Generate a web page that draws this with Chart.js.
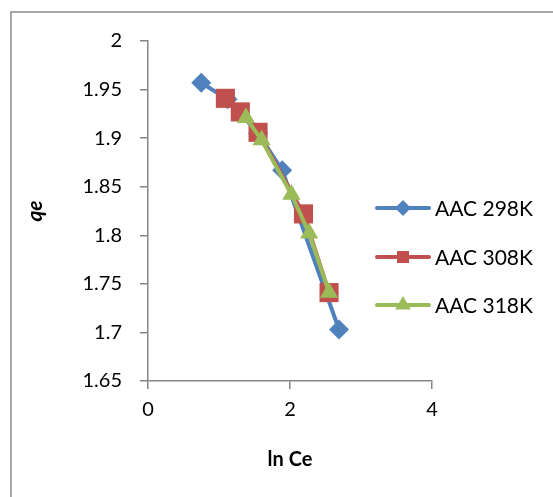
<!DOCTYPE html>
<html>
<head>
<meta charset="utf-8">
<script src="https://cdn.jsdelivr.net/npm/chart.js@4"></script>
<style>
html,body{margin:0;padding:0;background:#fff;}
#wrap{width:553px;height:497px;position:relative;}
</style>
</head>
<body>
<div id="wrap"><canvas id="c" width="553" height="497"></canvas></div>
<script>
const seriesNames = ['AAC 298K', 'AAC 308K', 'AAC 318K'];
const x298 = [0.75, 1.12, 1.55, 1.89, 2.69];
const y298 = [1.957, 1.940, 1.905, 1.867, 1.703];
const x308 = [1.09, 1.30, 1.55, 2.19, 2.55];
const y308 = [1.941, 1.927, 1.906, 1.822, 1.741];
const x318 = [1.38, 1.60, 2.02, 2.27, 2.55];
const y318 = [1.921, 1.898, 1.842, 1.802, 1.741];
const xTicks = [0, 2, 4];
const yTicks = [1.65, 1.7, 1.75, 1.8, 1.85, 1.9, 1.95, 2];

const FONT = 'Lato, "Open Sans", sans-serif';
const FS = 20;
const colors = ['#4F81BD', '#C0504D', '#9BBB59'];
const shapes = ['rectRot', 'rect', 'triangle'];
const radii = [10, 13.5, 10.5];

function pts(xs, ys){ return xs.map((x,i)=>({x:x, y:ys[i]})); }

const datasets = [pts(x298,y298), pts(x308,y308), pts(x318,y318)].map((d,i)=>({
  label: seriesNames[i],
  data: d,
  borderColor: colors[i],
  backgroundColor: colors[i],
  borderWidth: 4,
  pointStyle: shapes[i],
  pointRadius: radii[i],
  pointHoverRadius: radii[i],
  pointBorderWidth: 0,
  showLine: true,
  tension: 0,
  order: 2 - i
}));

const frame = {
  id: 'frame',
  beforeDraw(chart){
    const ctx = chart.ctx;
    ctx.save();
    ctx.strokeStyle = '#8c8c8c';
    ctx.lineWidth = 1.5;
    ctx.beginPath();
    ctx.moveTo(11, 600);
    ctx.lineTo(11, 12);
    ctx.lineTo(600, 12);
    ctx.stroke();
    ctx.restore();
  }
};

const legendPlugin = {
  id: 'customLegend',
  afterDraw(chart){
    const ctx = chart.ctx;
    const ys = [208, 257, 305];
    chart.data.datasets.forEach((ds, i) => {
      const y = ys[i];
      ctx.save();
      ctx.strokeStyle = ds.borderColor;
      ctx.lineWidth = 4;
      ctx.lineCap = 'round';
      ctx.beginPath();
      ctx.moveTo(377, y);
      ctx.lineTo(429, y);
      ctx.stroke();
      ctx.fillStyle = ds.backgroundColor;
      ctx.beginPath();
      const r = [8, 11, 9][i];
      if (i === 0) { ctx.moveTo(403, y - r); ctx.lineTo(403 + r, y); ctx.lineTo(403, y + r); ctx.lineTo(403 - r, y); }
      else if (i === 1) { ctx.rect(403 - r/2 - 0.5, y - r/2 - 0.5, r + 1, r + 1); }
      else { ctx.moveTo(403, y - r); ctx.lineTo(403 + r*0.87, y + r*0.5); ctx.lineTo(403 - r*0.87, y + r*0.5); }
      ctx.closePath();
      ctx.fill();
      ctx.fillStyle = '#000';
      ctx.font = '21px ' + FONT;
      ctx.textBaseline = 'middle';
      ctx.textAlign = 'left';
      ctx.fillText(ds.label, 435, y + 1);
      ctx.restore();
    });
  }
};

new Chart(document.getElementById('c'), {
  type: 'scatter',
  data: { datasets },
  options: {
    responsive: false,
    animation: false,
    layout: { padding: { left: 0, top: 41, right: 121, bottom: 0 } },
    plugins: { legend: { display: false }, tooltip: { enabled: false } },
    scales: {
      x: {
        type: 'linear', min: 0, max: 4,
        afterBuildTicks(s){ s.ticks = xTicks.map(v => ({value: v})); },
        afterFit(s){ s.height = 116; },
        grid: { drawOnChartArea: false, drawTicks: true, tickLength: 8, color: '#868686', lineWidth: 1.5 },
        border: { display: true, color: '#868686', width: 1.5 },
        ticks: { color: '#000', font: { family: FONT, size: FS }, padding: 9, callback: v => String(v) },
        title: { display: true, text: 'ln Ce', color: '#000', font: { family: FONT, size: FS, weight: 'bold' }, padding: { top: 0, bottom: 25 } }
      },
      y: {
        type: 'linear', min: 1.65, max: 2,
        afterBuildTicks(s){ s.ticks = yTicks.map(v => ({value: v})); },
        afterFit(s){ s.width = 148; },
        grid: { drawOnChartArea: false, drawTicks: true, tickLength: 8, color: '#868686', lineWidth: 1.5 },
        border: { display: true, color: '#868686', width: 1.5 },
        ticks: { color: '#000', font: { family: FONT, size: FS }, padding: 18, callback: v => String(+v.toFixed(2)) },
        title: { display: true, text: 'qe', color: '#000', font: { family: FONT, size: 21, weight: 'bold', style: 'italic' }, padding: { top: 23, bottom: 0 } }
      }
    }
  },
  plugins: [frame, legendPlugin]
});
</script>
</body>
</html>
